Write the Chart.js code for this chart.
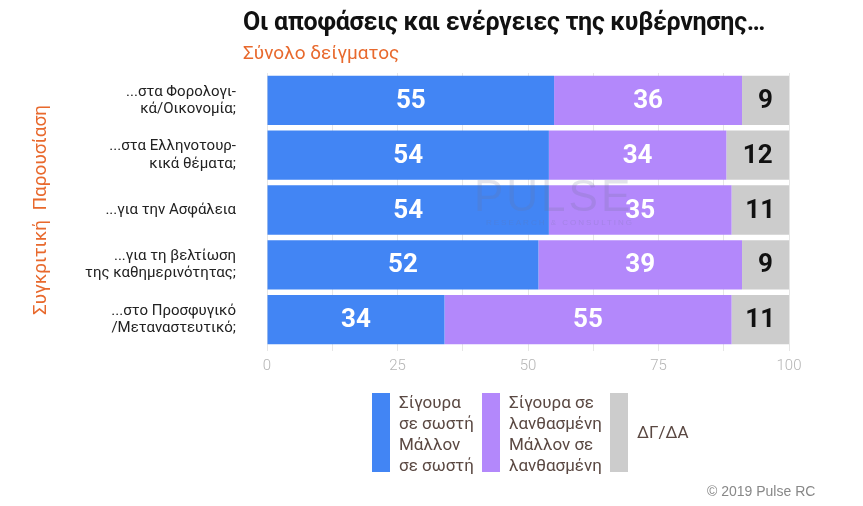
<!DOCTYPE html>
<html>
<head>
<meta charset="utf-8">
<script src="https://cdn.jsdelivr.net/npm/chart.js@4.4.1/dist/chart.umd.min.js"></script>
<style>
  html, body { margin: 0; padding: 0; background: #fff; }
  #wrap { position: relative; width: 863px; height: 506px; overflow: hidden; font-family: Roboto, "Noto Sans", sans-serif; }
  canvas { position: absolute; left: 0; top: 0; }
  .title { position: absolute; left: 243px; top: 7px; font-size: 25px; font-weight: bold; color: #111; white-space: nowrap; letter-spacing: -0.3px; }
  .subtitle { position: absolute; left: 243px; top: 41px; font-size: 19px; color: #e8692d; white-space: nowrap; }
  .leg { position: absolute; top: 393px; height: 79px; }
  .box { position: absolute; left: 0; top: 0; width: 18px; height: 79px; }
  .ltxt { position: absolute; top: -1px; font-size: 17px; line-height: 21px; color: #5a4842; white-space: nowrap; }
  .copy { position: absolute; left: 707px; top: 483px; font-family: "Liberation Sans", Arial, sans-serif; font-size: 14px; color: #888; }
  .wm { position: absolute; left: 474px; top: 174px; color: rgba(110,115,150,0.2); font-family: "Liberation Sans", Arial, sans-serif; pointer-events: none; }
  .wm1 { font-size: 44px; letter-spacing: 3px; line-height: 44px; }
  .wm2 { font-size: 8px; letter-spacing: 2px; margin-left: 12px; }
</style>
</head>
<body>
<div id="wrap">
  <canvas id="c" width="863" height="506"></canvas>
  <div class="wm"><div class="wm1">PULSE</div><div class="wm2">RESEARCH &amp; CONSULTING</div></div>
  <div class="title">Οι αποφάσεις και ενέργειες της κυβέρνησης…</div>
  <div class="subtitle">Σύνολο δείγματος</div>
  <div id="legend"></div>
  <div class="copy">© 2019 Pulse RC</div>
</div>
<script>
const categories = [
  ["...στα Φορολογι-", "κά/Οικονομία;"],
  ["...στα Ελληνοτουρ-", "κικά θέματα;"],
  ["...για την Ασφάλεια"],
  ["...για τη βελτίωση", "της καθημερινότητας;"],
  ["...στο Προσφυγικό", "/Μεταναστευτικό;"]
];
const seriesNames = [
  ["Σίγουρα", "σε σωστή", "Μάλλον", "σε σωστή"],
  ["Σίγουρα σε", "λανθασμένη", "Μάλλον σε", "λανθασμένη"],
  ["ΔΓ/ΔΑ"]
];
const correct = [55, 54, 54, 52, 34];
const wrong = [36, 34, 35, 39, 55];
const dkna = [9, 12, 11, 9, 11];
const xTickLabels = [0, 25, 50, 75, 100];
const yAxisTitle = "Συγκριτική  Παρουσίαση";
const colors = ["#4285f4", "#b388fb", "#cccccc"];
const labelColors = ["#ffffff", "#ffffff", "#111111"];

const valueLabels = {
  id: "valueLabels",
  afterDatasetsDraw(chart) {
    const ctx = chart.ctx;
    ctx.save();
    ctx.font = "bold 26px Roboto, sans-serif";
    ctx.textAlign = "center";
    ctx.textBaseline = "middle";
    chart.data.datasets.forEach((ds, di) => {
      const meta = chart.getDatasetMeta(di);
      meta.data.forEach((bar, i) => {
        const v = ds.data[i];
        const cx = (bar.x + bar.base) / 2;
        ctx.fillStyle = labelColors[di];
        ctx.fillText(String(v), cx, bar.y + 1);
      });
    });
    ctx.restore();
  }
};

const datasets = [correct, wrong, dkna].map((d, i) => ({
  label: seriesNames[i].join(" "),
  data: d,
  backgroundColor: colors[i],
  borderWidth: 0,
  barPercentage: 0.9,
  categoryPercentage: 1.0
}));

new Chart(document.getElementById("c"), {
  type: "bar",
  data: { labels: categories, datasets },
  options: {
    indexAxis: "y",
    responsive: false,
    animation: false,
    layout: { padding: { top: 73, right: 74, bottom: 129, left: 30 } },
    plugins: { legend: { display: false }, tooltip: { enabled: false }, title: { display: false } },
    scales: {
      x: {
        stacked: true,
        min: 0, max: 100,
        grid: { color: "#e6e6e6", lineWidth: 1, tickLength: 4, drawTicks: true },
        border: { display: false },
        ticks: {
          stepSize: 12.5,
          autoSkip: false,
          maxRotation: 0,
          color: "#b5b5b5",
          font: { family: "Roboto", size: 15, weight: 300 },
          padding: 6,
          callback: (v) => xTickLabels.includes(v) ? String(v) : ""
        },
        afterFit: (s) => { s.height = 30; }
      },
      y: {
        stacked: true,
        grid: { display: false, drawTicks: false },
        border: { display: false },
        ticks: {
          color: "#222",
          font: { family: "Roboto", size: 15, lineHeight: 1.15 },
          padding: 31,
          crossAlign: "near"
        },
        title: {
          display: true,
          text: yAxisTitle,
          color: "#e8692d",
          font: { family: "Roboto", size: 19 },
          padding: 0
        },
        afterFit: (s) => { s.width = 237; }
      }
    }
  },
  plugins: [valueLabels]
});

// legend
const legend = document.getElementById("legend");
const legX = [372, 482, 610];
seriesNames.forEach((lines, i) => {
  const d = document.createElement("div");
  d.className = "leg";
  d.style.left = legX[i] + "px";
  const b = document.createElement("div");
  b.className = "box";
  b.style.background = colors[i];
  d.appendChild(b);
  const t = document.createElement("div");
  t.className = "ltxt";
  t.style.left = "27px";
  if (lines.length === 1) t.style.top = "29px";
  t.innerHTML = lines.join("<br>");
  d.appendChild(t);
  legend.appendChild(d);
});
</script>
</body>
</html>
